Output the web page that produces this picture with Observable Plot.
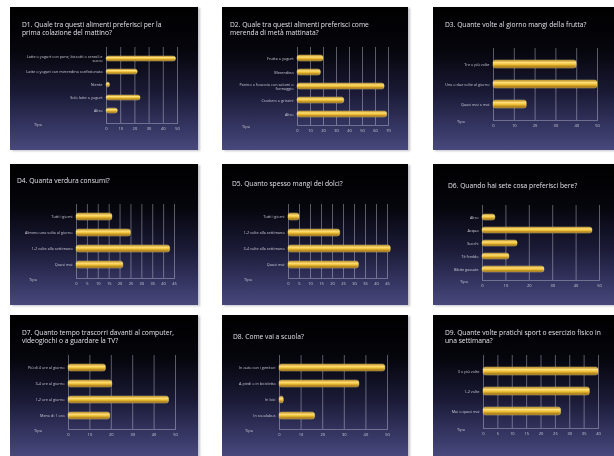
<!DOCTYPE html>
<html><head><meta charset="utf-8">
<script src="https://cdn.jsdelivr.net/npm/d3@7"></script>
<script src="https://cdn.jsdelivr.net/npm/@observablehq/plot@0.6"></script>
<style>
html,body{margin:0;padding:0;background:#fff}
body{width:614px;height:456px;overflow:hidden;position:relative;font-family:"Open Sans",sans-serif}
.panel{position:absolute;overflow:hidden;
 background:linear-gradient(to bottom,#000 0%,#05050c 30%,#1a1a36 60%,#33335f 82%,#48487c 100%);
 box-shadow:2px 1px 2px rgba(120,120,140,0.45);filter:blur(0.35px)}
.panel svg{position:absolute;left:0;top:0}
.title{position:absolute;color:#e0e0ea;font-size:6.7px;line-height:8px;white-space:pre-line}
.tipo{position:absolute;color:#c8c8d4;font-size:4px}
</style></head><body>
<script>
// ---- data ----
const titles = [
  "D1. Quale tra questi alimenti preferisci per la\nprima colazione del mattino?",
  "D2. Quale tra questi alimenti preferisci come\nmerenda di metà mattinata?",
  "D3. Quante volte al giorno mangi della frutta?",
  "D4. Quanta verdura consumi?",
  "D5. Quanto spesso mangi dei dolci?",
  "D6. Quando hai sete cosa preferisci bere?",
  "D7. Quanto tempo trascorri davanti al computer,\nvideogiochi o a guardare la TV?",
  "D8. Come vai a scuola?",
  "D9. Quante volte pratichi sport o esercizio fisico in\nuna settimana?"
];
const cats1 = ["Latte o yogurt con pane, biscotti o cereali e succo", "Latte o yogurt con merendina confezionata", "Niente", "Solo latte o yogurt", "Altro"];
const vals1 = [49, 22, 2.5, 24, 8];
const ticks1 = [0, 10, 20, 30, 40, 50];

const cats2 = ["Frutta o yogurt", "Merendina", "Panino o focaccia con salumi o formaggio", "Crackers o grissini", "Altro"];
const vals2 = [20, 18, 67, 36, 69];
const ticks2 = [0, 10, 20, 30, 40, 50, 60, 70];

const cats3 = ["Tre o più volte", "Una o due volte al giorno", "Quasi mai o mai"];
const vals3 = [40, 50, 16];
const ticks3 = [0, 10, 20, 30, 40, 50];

const cats4 = ["Tutti i giorni", "Almeno una volta al giorno", "1-2 volte alla settimana", "Quasi mai"];
const vals4 = [16.5, 25, 43, 21.5];
const ticks4 = [0, 5, 10, 15, 20, 25, 30, 35, 40, 45];

const cats5 = ["Tutti i giorni", "1-2 volte alla settimana", "3-4 volte alla settimana", "Quasi mai"];
const vals5 = [5, 23.5, 46.5, 32];
const ticks5 = [0, 5, 10, 15, 20, 25, 30, 35, 40, 45];

const cats6 = ["Altro", "Acqua", "Succhi", "Tè freddo", "Bibite gassate"];
const vals6 = [5.5, 47, 15, 11.5, 26.5];
const ticks6 = [0, 10, 20, 30, 40, 50];

const cats7 = ["Più di 4 ore al giorno", "3-4 ore al giorno", "1-2 ore al giorno", "Meno di 1 ora"];
const vals7 = [17.5, 20.5, 47, 19.5];
const ticks7 = [0, 10, 20, 30, 40, 50];

const cats8 = ["In auto con i genitori", "A piedi o in bicicletta", "In bici", "In scuolabus"];
const vals8 = [49, 37, 2, 16.5];
const ticks8 = [0, 10, 20, 30, 40, 50];

const cats9 = ["3 o più volte", "1-2 volte", "Mai o quasi mai"];
const vals9 = [40, 37, 27];
const ticks9 = [0, 5, 10, 15, 20, 25, 30, 35, 40];

const axisName = "Tipo";

// ---- layout (positions/sizes only) ----
const layout = [
  {x:10, y:7,   w:188, h:143, ml:96, mr:21, mt:40, mb:27, tx:12, ty:14, pad:0.6},
  {x:222,y:7,   w:186, h:143, ml:75, mr:20, mt:40, mb:25, tx:8,  ty:14, pad:0.56},
  {x:433,y:7,   w:181, h:143, ml:60, mr:17, mt:41, mb:30, tx:12, ty:14, pad:0.58},
  {x:10, y:164, w:188, h:141, ml:66, mr:24, mt:40, mb:27, tx:7,  ty:13, pad:0.55},
  {x:222,y:164, w:186, h:141, ml:66, mr:21, mt:40, mb:27, tx:10, ty:16, pad:0.55},
  {x:433,y:164, w:181, h:141, ml:49, mr:15, mt:41, mb:25, tx:15, ty:18, pad:0.56},
  {x:10, y:315, w:188, h:141, ml:58, mr:23, mt:40, mb:27, tx:12, ty:14, pad:0.55},
  {x:222,y:315, w:186, h:141, ml:57, mr:21, mt:40, mb:27, tx:11, ty:18, pad:0.55},
  {x:433,y:315, w:181, h:141, ml:50, mr:16, mt:40, mb:28, tx:12, ty:14, pad:0.58}
];

const charts = [
  [cats1, vals1, ticks1], [cats2, vals2, ticks2], [cats3, vals3, ticks3],
  [cats4, vals4, ticks4], [cats5, vals5, ticks5], [cats6, vals6, ticks6],
  [cats7, vals7, ticks7], [cats8, vals8, ticks8], [cats9, vals9, ticks9]
];

const goldDefs = `<linearGradient id="gold" x1="0" y1="0" x2="0" y2="1">
  <stop offset="0" stop-color="#a87810"/>
  <stop offset="0.3" stop-color="#ffe07a"/>
  <stop offset="0.55" stop-color="#f0c23a"/>
  <stop offset="1" stop-color="#8a5e0c"/>
</linearGradient>`;

charts.forEach(([cats, vals, ticks], i) => {
  const L = layout[i];
  const panel = document.createElement("div");
  panel.className = "panel";
  Object.assign(panel.style, {left: L.x + "px", top: L.y + "px", width: L.w + "px", height: L.h + "px"});
  document.body.appendChild(panel);

  const data = cats.map((c, k) => ({c, v: vals[k]}));
  const svg = Plot.plot({
    width: L.w, height: L.h,
    marginLeft: L.ml, marginRight: L.mr, marginTop: L.mt, marginBottom: L.mb,
    style: {background: "transparent", color: "#c8c8d4", fontFamily: "'Open Sans', sans-serif", fontSize: "3.8px"},
    x: {domain: [ticks[0], ticks[ticks.length - 1]], ticks: ticks},
    y: {domain: cats, padding: L.pad},
    marks: [
      Plot.gridX(ticks, {stroke: "#e0e0f0", strokeOpacity: 0.65, strokeWidth: 0.6}),
      Plot.frame({anchor: "bottom", stroke: "#e0e0f0", strokeOpacity: 0.6, strokeWidth: 0.6}),
      Plot.barX(data, {x: "v", y: "c", fill: "url(#gold)", rx: 2.5, stroke: "#ffec9a", strokeWidth: 0.5, strokeOpacity: 0.75}),
      Plot.axisX({ticks: ticks, tickSize: 0, tickPadding: 4, fontSize: "4px", label: null}),
      Plot.axisY({tickSize: 0, tickPadding: 4, fontSize: "3.8px", label: null, lineWidth: (L.ml - 10) / 3.8})
    ]
  });
  const defs = document.createElementNS("http://www.w3.org/2000/svg", "defs");
  defs.innerHTML = goldDefs;
  svg.insertBefore(defs, svg.firstChild);
  panel.appendChild(svg);

  const t = document.createElement("div");
  t.className = "title";
  t.textContent = titles[i];
  Object.assign(t.style, {left: L.tx + "px", top: L.ty + "px"});
  panel.appendChild(t);

  const tp = document.createElement("div");
  tp.className = "tipo";
  tp.textContent = axisName;
  Object.assign(tp.style, {left: (L.tx + 12) + "px", top: (L.h - L.mb - 1) + "px"});
  panel.appendChild(tp);
});
</script>
</body></html>
